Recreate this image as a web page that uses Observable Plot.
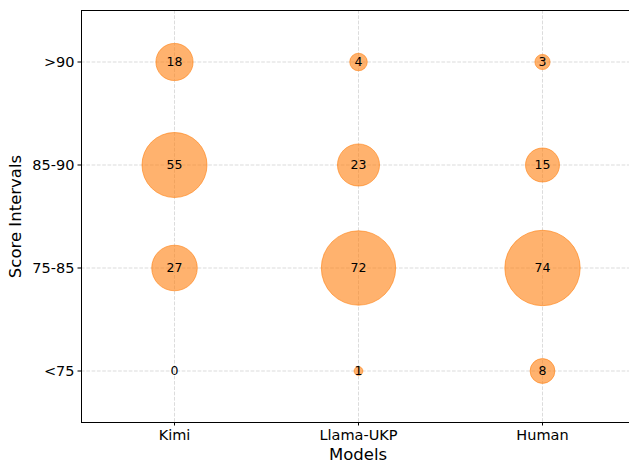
<!DOCTYPE html>
<html>
<head>
<meta charset="utf-8">
<script src="https://cdn.jsdelivr.net/npm/d3@7"></script>
<script src="https://cdn.jsdelivr.net/npm/@observablehq/plot@0.6"></script>
<style>
  html, body { margin: 0; padding: 0; background: white; overflow: hidden; }
</style>
</head>
<body>
<div id="chart"></div>
<script>
const models = ["Kimi", "Llama-UKP", "Human"];
const intervals = ["<75", "75-85", "85-90", ">90"];
const kimi = [0, 27, 55, 18];
const llamaUKP = [1, 72, 23, 4];
const human = [8, 74, 15, 3];

const seriesByModel = {"Kimi": kimi, "Llama-UKP": llamaUKP, "Human": human};
const data = [];
for (const m of models) {
  intervals.forEach((iv, i) => data.push({model: m, interval: iv, count: seriesByModel[m][i]}));
}

const orange = "#ff7f0e";
const font = "DejaVu Sans, sans-serif";

const chart = Plot.plot({
  width: 629,
  height: 464,
  marginLeft: 81,
  marginRight: 0,
  marginTop: 10,
  marginBottom: 42,
  style: {fontFamily: font, fontSize: "14px", color: "black", background: "white"},
  x: {type: "band", domain: models, range: [81, 634], padding: 0},
  y: {type: "band", domain: intervals.slice().reverse(), range: [10, 422], padding: 0},
  r: {type: "sqrt", domain: [0, 74], range: [0, 37.7]},
  marks: [
    Plot.gridX(models, {stroke: "#c8c8c8", strokeOpacity: 0.8, strokeDasharray: "3.7,1.6", strokeWidth: 0.8}),
    Plot.gridY(intervals, {stroke: "#c8c8c8", strokeOpacity: 0.8, strokeDasharray: "3.7,1.6", strokeWidth: 0.8}),
    Plot.dot(data, {x: "model", y: "interval", r: "count", fill: orange, fillOpacity: 0.6, stroke: orange, strokeOpacity: 0.6, strokeWidth: 1}),
    Plot.text(data, {x: "model", y: "interval", text: d => String(d.count), fontSize: 12.5, fill: "black"}),
    Plot.frame({anchor: "left", stroke: "black", strokeWidth: 1}),
    Plot.frame({anchor: "top", stroke: "black", strokeWidth: 1}),
    Plot.frame({anchor: "bottom", stroke: "black", strokeWidth: 1}),
    Plot.axisX({label: null, tickSize: 3.5, tickPadding: 3.5, fontSize: 14.5, stroke: "black"}),
    Plot.axisY({label: null, tickSize: 3.5, tickPadding: 3.5, fontSize: 14.5, stroke: "black"}),
    Plot.text(["Models"], {text: d => d, frameAnchor: "bottom", lineAnchor: "middle", dx: 2.5, dy: 32.5, fontSize: 16.5, fill: "black"}),
    Plot.text(["Score Intervals"], {text: d => d, frameAnchor: "left", textAnchor: "middle", lineAnchor: "middle", dx: -66, rotate: -90, fontSize: 16.5, fill: "black"})
  ]
});
document.getElementById("chart").appendChild(chart);
</script>
</body>
</html>
